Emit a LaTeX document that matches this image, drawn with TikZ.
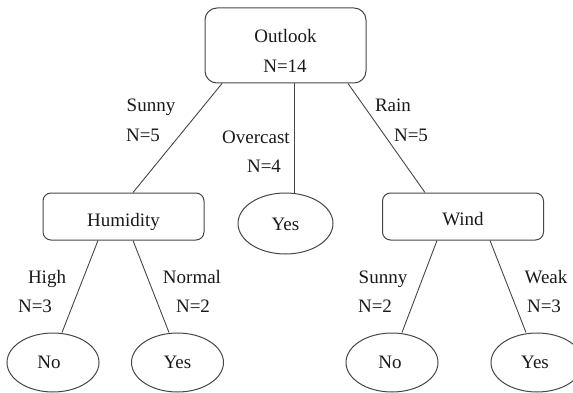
\documentclass[tikz,border=0pt]{standalone}
\usepackage{fontspec}
\setmainfont{Liberation Serif}
\usetikzlibrary{shapes.geometric}
\definecolor{edge}{RGB}{70,70,70}
\definecolor{txt}{RGB}{25,25,25}
\begin{document}
\begin{tikzpicture}[x=1pt,y=-1pt,
  every node/.style={font=\fontsize{19}{21}\selectfont, text=txt},
  decision/.style={draw=edge, line width=1pt, rounded corners=8pt,
    minimum width=161pt, minimum height=47pt, inner sep=0pt},
  leaf/.style={draw=edge, line width=1pt, ellipse,
    minimum width=92pt, minimum height=59pt, inner sep=0pt},
  branch/.style={draw=edge, line width=0.9pt},
  lbl/.style={anchor=base, inner sep=0pt}
]
\useasboundingbox (0,0) rectangle (573,393);
\clip (0,0) rectangle (573,393);

% internal nodes
\node[decision, minimum height=75pt, rounded corners=12pt] (outlook) at (285.5,45.5) {};
\node[lbl] (outlookname) at (285.5,43) {Outlook};
\node[lbl] (outlookn) at (285,72.5) {N=14};

\node[decision] (hum) at (123.5,216.5) {};
\node[lbl] (humname) at (123.5,226) {Humidity};

\node[decision] (wind) at (463,216.5) {};
\node[lbl] (windname) at (463,225.5) {Wind};

% leaves
\node[leaf, minimum width=95pt, minimum height=61pt] (yesmid) at (285.5,223.5) {};
\node[lbl] (yesmidt) at (285.5,230.5) {Yes};

\node[leaf] (no1) at (53,362.5) {};
\node[lbl] (no1t) at (49,368) {No};
\node[leaf] (yes1) at (177.5,362.5) {};
\node[lbl] (yes1t) at (177.5,368) {Yes};

\node[leaf] (no2) at (392,362.5) {};
\node[lbl] (no2t) at (390,368) {No};
\node[leaf] (yes2) at (537,362.5) {};
\node[lbl] (yes2t) at (535,368) {Yes};

% branches
\draw[branch] ([xshift=-63.5pt]outlook.south) -- ([xshift=9.5pt]hum.north);
\draw[branch] ([xshift=8.5pt]outlook.south) -- ([xshift=8.5pt]yesmid.north);
\draw[branch] ([xshift=62.5pt]outlook.south) -- ([xshift=-38pt]wind.north);

\draw[branch] ([xshift=-25.5pt]hum.south) -- ([xshift=9pt]no1.north);
\draw[branch] ([xshift=9.5pt]hum.south) -- ([xshift=-8.5pt]yes1.north);

\draw[branch] ([xshift=-26pt]wind.south) -- ([xshift=10pt]no2.north);
\draw[branch] ([xshift=27pt]wind.south) -- ([xshift=-11pt]yes2.north);

% branch labels
\node[lbl] (l1) at (151,112) {Sunny};
\node[lbl] (l1n) at (143,141.5) {N=5};
\node[lbl] (l2) at (256,143) {Overcast};
\node[lbl] (l2n) at (264,172.5) {N=4};
\node[lbl] (l3) at (393,112) {Rain};
\node[lbl] (l3n) at (411,141.5) {N=5};

\node[lbl] (l4) at (47,283) {High};
\node[lbl] (l4n) at (35,312) {N=3};
\node[lbl] (l5) at (192,283) {Normal};
\node[lbl] (l5n) at (193,312) {N=2};

\node[lbl] (l6) at (383,283) {Sunny};
\node[lbl] (l6n) at (375,312) {N=2};
\node[lbl] (l7) at (546,283) {Weak};
\node[lbl] (l7n) at (544,312) {N=3};
\end{tikzpicture}
\end{document}
